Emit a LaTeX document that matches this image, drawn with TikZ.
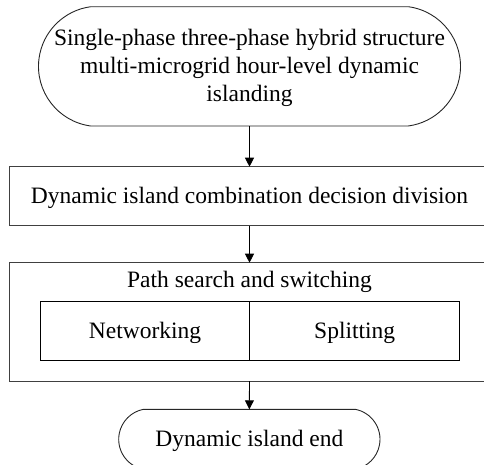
\documentclass[tikz,border=0pt]{standalone}
\usepackage{fontspec}
\setmainfont{Liberation Serif}
\usetikzlibrary{shapes.misc,arrows.meta}
\begin{document}
\begin{tikzpicture}[x=1pt,y=-1pt,
  every node/.style={font=\fontsize{23.5}{28}\selectfont, inner sep=0pt, outer sep=0pt},
  lineclr/.style={draw=black!75, line width=0.9pt},
  terminal/.style={rounded rectangle, draw=black!85, line width=0.9pt, rounded rectangle arc length=#1},
  boxnode/.style={rectangle, lineclr, text height=16pt, text depth=2pt},
  cell/.style={rectangle, draw=black, line width=0.9pt, text height=16pt, text depth=2pt},
  arr/.style={draw=black, line width=0.9pt, -{Triangle[length=9pt,width=9pt]}}]
\useasboundingbox (0,0) rectangle (484,464);
\clip (0,0) rectangle (484,464);
\node[terminal=165, minimum width=422pt, minimum height=119.3pt] (start) at (249.5,66.35) {};
\node[align=center] (starttext) at (249.5,68.3) {Single-phase three-phase hybrid structure\\multi-microgrid hour-level dynamic\\islanding};
\node[boxnode, minimum width=480.4pt, minimum height=59pt] (divide) at (249.5,196.2) {Dynamic island combination decision division};
\node[rectangle, lineclr, minimum width=480.4pt, minimum height=118.3pt] (path) at (249.5,321.85) {};
\node[anchor=base] (pathtitle) at (249.5,287.3) {Path search and switching};
\node[cell, minimum width=209.4pt, minimum height=58.6pt] (net) at (145,331) {Networking};
\node[cell, minimum width=210pt, minimum height=58.6pt] (split) at (354.7,331) {Splitting};
\node[terminal=158, minimum width=261.3pt, minimum height=60pt, text height=16pt, text depth=2pt] (end) at (249.35,439.3) {Dynamic island end};
\draw[arr] (start.south) -- (divide.north);
\draw[arr] (divide.south) -- (path.north);
\draw[arr] (path.south) -- (end.north);
\end{tikzpicture}
\end{document}
